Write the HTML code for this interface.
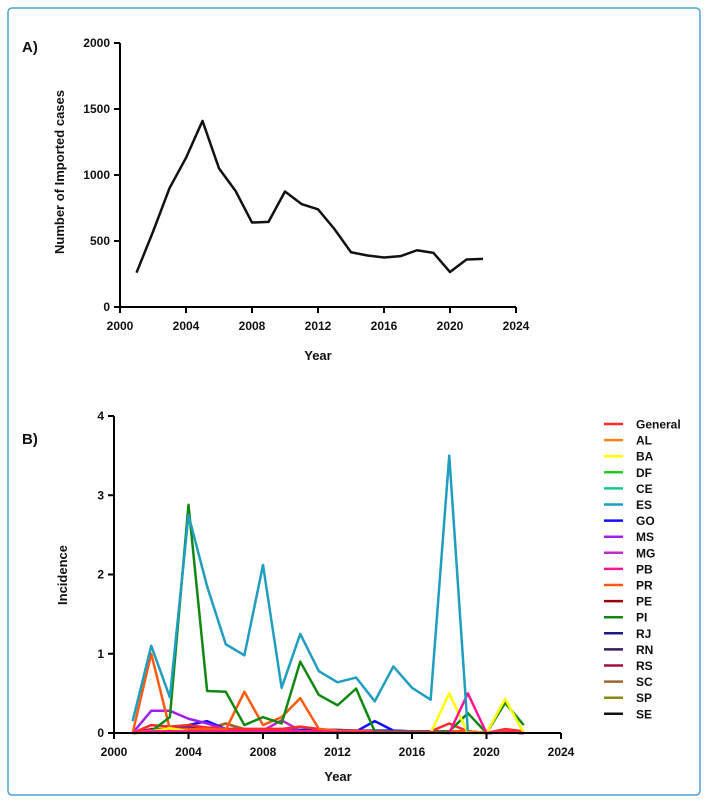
<!DOCTYPE html>
<html><head><meta charset="utf-8"><style>
body{margin:0;background:#fff;font-family:"Liberation Sans",Arial,sans-serif}
svg text{font-family:"Liberation Sans",Arial,sans-serif;font-weight:bold;fill:#111}
</style></head><body>
<svg id="c" width="708" height="802">
<rect x="8" y="8" width="692" height="787" rx="4" fill="none" stroke="#4aa3d6" stroke-width="1.5"/>
</svg>
<script>
const years=[2001,2002,2003,2004,2005,2006,2007,2008,2009,2010,2011,2012,2013,2014,2015,2016,2017,2018,2019,2020,2021,2022];
const importedCases=[260,570,900,1130,1410,1050,880,640,645,875,780,740,590,415,390,375,385,430,410,265,360,365];
const aXTicks=[2000,2004,2008,2012,2016,2020,2024];
const aYTicks=[0,500,1000,1500,2000];
const bYTicks=[0,1,2,3,4];
const seriesNames=["General","AL","BA","DF","CE","ES","GO","MS","MG","PB","PR","PE","PI","RJ","RN","RS","SC","SP","SE"];
const seriesColors=["#ff2a2a","#ff7f1e","#ffff00","#22cc22","#18c88a","#1f9ebf","#1010ff","#a020f0","#c02ac8","#ff1493","#ff5a10","#990000","#118811","#1a1a8a","#3a1a5a","#a01040","#a0642a","#8a8a10","#111111"];
const sGeneral=[0,0.1,0.08,0.1,0.07,0.05,0.05,0.05,0.05,0.08,0.05,0.03,0.03,0.02,0.02,0.02,0.02,0.12,0.02,0,0.05,0.02];
const sAL=[0,0.03,0.05,0.05,0.03,0.02,0.02,0.02,0.02,0.02,0.02,0.02,0.01,0.01,0.01,0.01,0.01,0.01,0.01,0,0.01,0.01];
const sBA=[0,0.02,0.06,0.02,0.01,0.01,0.01,0.01,0.01,0.01,0.01,0.01,0.01,0.01,0.01,0.01,0,0.5,0,0,0.43,0];
const sDF=[0,0.01,0.02,0.02,0.02,0.02,0.01,0.01,0.01,0.01,0.01,0.01,0.01,0.01,0.01,0.01,0.01,0.01,0.01,0,0.01,0];
const sCE=[0,0.01,0.03,0.03,0.02,0.02,0.01,0.01,0.01,0.01,0.01,0.01,0.01,0.01,0.01,0.01,0.01,0.01,0.01,0,0.01,0];
const sES=[0.15,1.1,0.45,2.75,1.85,1.12,0.98,2.12,0.57,1.25,0.78,0.64,0.7,0.4,0.84,0.57,0.42,3.5,0.02,null,null,null];
const sGO=[0,0.02,0.05,0.1,0.15,0.05,0.03,0.02,0.02,0.03,0.02,0.02,0.02,0.15,0.03,0.02,0.02,0.02,0.01,0,0.01,0];
const sMS=[0,0.28,0.28,0.18,0.12,0.05,0.05,0.05,0.05,0.02,0.02,0.02,0.01,0.01,0.01,0.01,0.01,0.01,0.01,0,0.01,0];
const sMG=[0,0.03,0.05,0.05,0.04,0.03,0.03,0.03,0.16,0.03,0.03,0.02,0.02,0.02,0.02,0.02,0.02,0.02,0.02,0,0.02,0];
const sPB=[0,0.02,0.02,0.02,0.02,0.02,0.02,0.02,0.02,0.02,0.02,0.01,0.01,0.01,0.01,0.01,0.01,0,0.5,0,0.01,0];
const sPR=[0,1.0,0.05,0.05,0.05,0.04,0.52,0.1,0.2,0.44,0.05,0.03,0.02,0.02,0.02,0.02,0.02,0.02,0.02,0,0.02,0];
const sPE=[0,0.02,0.03,0.03,0.03,0.03,0.03,0.03,0.02,0.02,0.02,0.02,0.02,0.01,0.01,0.01,0.01,0.01,0.01,0,0.01,0];
const sPI=[0,0.02,0.2,2.88,0.53,0.52,0.1,0.2,0.12,0.9,0.48,0.35,0.56,0.02,0.02,0.02,0.02,0.02,0.25,0,0.38,0.1];
const sRJ=[0,0.02,0.05,0.08,0.06,0.05,0.04,0.04,0.04,0.04,0.04,0.04,0.03,0.03,0.03,0.02,0.02,0.02,0.02,0,0.02,0];
const sRN=[0,0.02,0.03,0.03,0.03,0.03,0.02,0.02,0.02,0.02,0.02,0.02,0.02,0.01,0.01,0.01,0.01,0.01,0.01,0,0.01,0];
const sRS=[0,0.05,0.05,0.08,0.06,0.05,0.04,0.04,0.04,0.04,0.03,0.03,0.03,0.02,0.02,0.02,0.02,0.02,0.02,0,0.02,0];
const sSC=[0,0.02,0.04,0.05,0.05,0.12,0.04,0.04,0.03,0.03,0.03,0.02,0.02,0.02,0.02,0.02,0.02,0.02,0.02,0,0.02,0];
const sSP=[0,0.02,0.03,0.05,0.05,0.12,0.05,0.04,0.03,0.03,0.03,0.02,0.02,0.02,0.02,0.02,0.02,0.02,0.02,0,0.02,0];
const sSE=[0,0.01,0.02,0.02,0.02,0.02,0.01,0.01,0.01,0.01,0.01,0.01,0.01,0.01,0.01,0.01,0.01,0.01,0.01,0,0.01,0];
const seriesData=[sGeneral,sAL,sBA,sDF,sCE,sES,sGO,sMS,sMG,sPB,sPR,sPE,sPI,sRJ,sRN,sRS,sSC,sSP,sSE];
const drawOrder=[18,17,16,15,14,13,11,4,3,8,6,7,1,0,10,12,2,9,5];

const NS="http://www.w3.org/2000/svg";
const svg=document.getElementById('c');
function mk(t,a,p){const e=document.createElementNS(NS,t);for(const k in a)e.setAttribute(k,a[k]);(p||svg).appendChild(e);return e;}

// Panel A
const ax=v=>120+(v-2000)*(516-120)/24;
const ay=v=>307-v*(307-43)/2000;
const gA=mk('g',{});


let t=mk('text',{x:22,y:52,'font-size':15},gA);t.textContent='A)';

let l=mk('line',{x1:ax(2000),y1:ay(0),x2:ax(2024),y2:ay(0),stroke:'#000','stroke-width':2},gA);

l=mk('line',{x1:ax(2000),y1:ay(0),x2:ax(2000),y2:ay(2000),stroke:'#000','stroke-width':2},gA);

aXTicks.forEach(v=>{mk('line',{x1:ax(v),y1:307,x2:ax(v),y2:313,stroke:'#000','stroke-width':2},gA);
 const tx=mk('text',{x:ax(v),y:330,'font-size':12,'text-anchor':'middle'},gA);tx.textContent=v;
 });
aYTicks.forEach(v=>{mk('line',{x1:114,y1:ay(v),x2:120,y2:ay(v),stroke:'#000','stroke-width':2},gA);
 const tx=mk('text',{x:110,y:ay(v)+4,'font-size':12,'text-anchor':'end'},gA);tx.textContent=v;
 });
t=mk('text',{x:318,y:360,'font-size':13,'text-anchor':'middle'},gA);t.textContent='Year';

t=mk('text',{x:0,y:0,'font-size':13,'text-anchor':'middle',transform:'translate(64,172) rotate(-90)'},gA);t.textContent='Number of Imported cases';

let pa=mk('polyline',{points:years.map((y,i)=>ax(y)+','+ay(importedCases[i])).join(' '),fill:'none',stroke:'#111','stroke-width':2.5,'stroke-linejoin':'round'},gA);


// Panel B
const bx=v=>114+(v-2000)*(561-114)/24;
const by=v=>733-v*(733-416)/4;
const gB=mk('g',{});


t=mk('text',{x:22,y:444,'font-size':15},gB);t.textContent='B)';

drawOrder.forEach(si=>{
 const d=seriesData[si];const pts=[];
 years.forEach((y,i)=>{if(d[i]!==null)pts.push(bx(y)+','+by(d[i]));});
 const p=mk('polyline',{points:pts.join(' '),fill:'none',stroke:seriesColors[si],'stroke-width':2.5,'stroke-linejoin':'round'},gB);
 
 
});
l=mk('line',{x1:bx(2000),y1:by(0),x2:bx(2024),y2:by(0),stroke:'#000','stroke-width':2},gB);

l=mk('line',{x1:bx(2000),y1:by(0),x2:bx(2000),y2:by(4),stroke:'#000','stroke-width':2},gB);

aXTicks.forEach(v=>{mk('line',{x1:bx(v),y1:733,x2:bx(v),y2:739,stroke:'#000','stroke-width':2},gB);
 const tx=mk('text',{x:bx(v),y:756,'font-size':12,'text-anchor':'middle'},gB);tx.textContent=v;
 });
bYTicks.forEach(v=>{mk('line',{x1:108,y1:by(v),x2:114,y2:by(v),stroke:'#000','stroke-width':2},gB);
 const tx=mk('text',{x:104,y:by(v)+4,'font-size':12,'text-anchor':'end'},gB);tx.textContent=v;
 });
t=mk('text',{x:338,y:781,'font-size':13,'text-anchor':'middle'},gB);t.textContent='Year';

t=mk('text',{x:0,y:0,'font-size':13,'text-anchor':'middle',transform:'translate(67,575) rotate(-90)'},gB);t.textContent='Incidence';

// legend
const gL=mk('g',{},gB);


seriesNames.forEach((n,i)=>{
 const y=424+i*16.1;
 const e=mk('g',{},gL);
 
 
 mk('line',{x1:604,y1:y,x2:623,y2:y,stroke:seriesColors[i],'stroke-width':2.5},e);
 const tx=mk('text',{x:636,y:y+4.5,'font-size':12},e);tx.textContent=n;
});
</script>
</body></html>
